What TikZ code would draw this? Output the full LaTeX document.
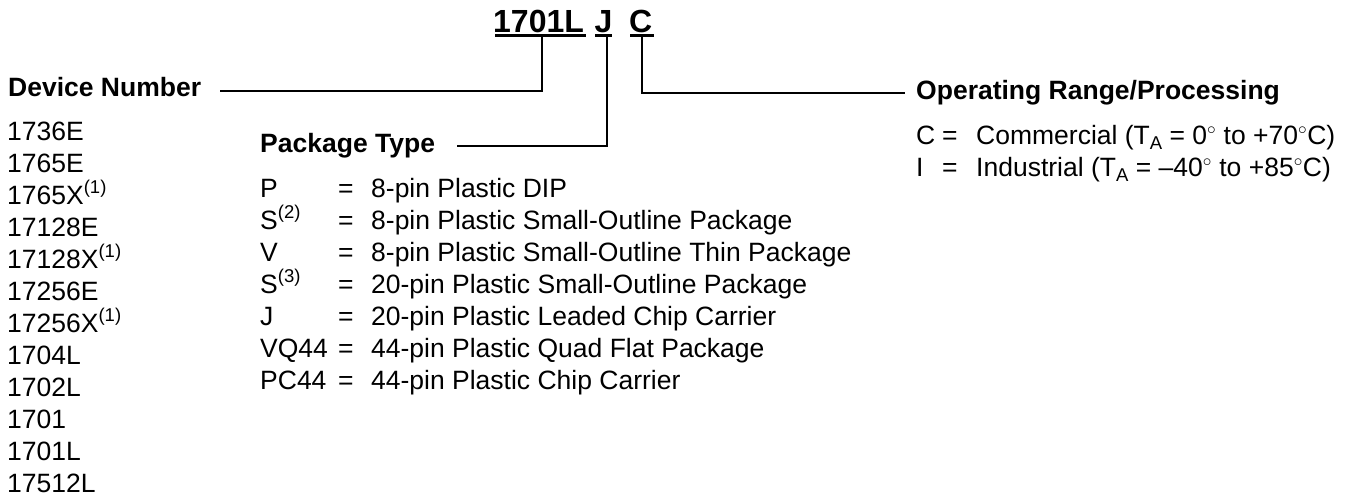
\documentclass[tikz,border=0pt]{standalone}
\usepackage{fontspec}
\setmainfont{Liberation Sans}
\newcommand\supx[1]{\raisebox{0.40em}{\fontsize{18.5}{18.5}\selectfont #1}}
\newcommand\subx[1]{\raisebox{-0.22em}{\fontsize{18.5}{18.5}\selectfont #1}}
\newcommand\degx{\ensuremath{^{\circ}}}
\begin{document}
\begin{tikzpicture}[x=1pt,y=-1pt,
  txt/.style={anchor=base west, inner sep=0pt, font=\fontsize{26.5}{32}\selectfont},
  hd/.style={anchor=base west, inner sep=0pt, font=\fontsize{26.5}{32}\selectfont\bfseries},
  ttl/.style={anchor=base west, inner sep=0pt, font=\fontsize{32}{38}\selectfont\bfseries},
  ln/.style={line width=2.7pt}]
\useasboundingbox (0,0) rectangle (1349,498);
% title
\node[ttl] (t1) at (493,32) {1701L};
\node[ttl] (tj) at (594.5,32) {J};
\node[ttl] (tc) at (629,32) {C};
\draw[ln] (495,35.5) -- (586,35.5);
\draw[ln] (595,35.5) -- (612,35.5);
\draw[ln] (630,35.5) -- (654,35.5);
% headings
\node[hd] (dn) at (8,96) {Device Number};
\node[hd] (pt) at (260,152) {Package Type};
\node[hd] (orp) at (916,99) {Operating Range/Processing};
% connectors
\coordinate (u1) at (542,35.5);
\coordinate (u2) at (607,35.5);
\coordinate (u3) at (642,35.5);
\coordinate (e1) at (220,91);
\coordinate (e2) at (457,146);
\coordinate (e3) at (905,93);
\draw[ln] (u1) |- (e1);
\draw[ln] (u2) |- (e2);
\draw[ln] (u3) |- (e3);
% device list
\foreach \t [count=\i] in {1736E,1765E,1765X\supx{(1)},17128E,17128X\supx{(1)},17256E,17256X\supx{(1)},1704L,1702L,1701,1701L,17512L}
  \node[txt] (d\i) at (7,{140+32*(\i-1)}) {\t};
% package list
\foreach \l/\d [count=\i] in {P/8-pin Plastic DIP,S\supx{(2)}/8-pin Plastic Small-Outline Package,V/8-pin Plastic Small-Outline Thin Package,S\supx{(3)}/20-pin Plastic Small-Outline Package,J/20-pin Plastic Leaded Chip Carrier,VQ44/44-pin Plastic Quad Flat Package,PC44/44-pin Plastic Chip Carrier}{
  \node[txt] (pl\i) at (260,{197+32*(\i-1)}) {\l};
  \node[txt] (pe\i) at (338,{197+32*(\i-1)}) {=};
  \node[txt] (pd\i) at (371,{197+32*(\i-1)}) {\d};
}
% operating range
\node[txt] (ol1) at (916,144) {C};
\node[txt] (oe1) at (942,144) {=};
\node[txt] (od1) at (976,144) {Commercial (T\subx{A} = 0\degx{} to +70\degx{}C)};
\node[txt] (ol2) at (916,176) {I};
\node[txt] (oe2) at (942,176) {=};
\node[txt] (od2) at (976,176) {Industrial (T\subx{A} = \textendash 40\degx{} to +85\degx{}C)};
\end{tikzpicture}
\end{document}
